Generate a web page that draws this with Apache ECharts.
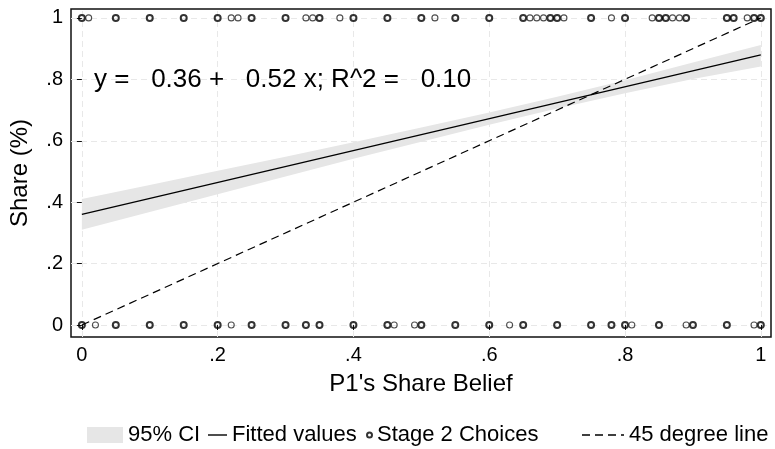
<!DOCTYPE html>
<html lang="en">

<head>
  <meta charset="UTF-8" />
  <title>Share vs P1's Share Belief</title>
  <script src="https://cdn.jsdelivr.net/npm/echarts@6.0.0/dist/echarts.min.js"></script>
  <style>
    body {
      margin: 0;
      background: #fff;
    }

    #chart {
      width: 775px;
      height: 449px;
    }
  </style>
</head>

<body>
  <div id="chart"></div>

  <script>
    // tick labels
    const tickValues = [0, 0.2, 0.4, 0.6, 0.8, 1];

    // 95% CI band of the fit
    const ciX = [0, 0.1, 0.2, 0.3, 0.4, 0.5, 0.6, 0.7, 0.8, 0.9, 1];
    const ciLower = [0.31, 0.368, 0.426, 0.484, 0.541, 0.597, 0.652, 0.705, 0.755, 0.801, 0.842];
    const ciUpper = [0.41, 0.456, 0.502, 0.548, 0.595, 0.643, 0.692, 0.743, 0.797, 0.855, 0.912];

    // fitted values: y = 0.36 + 0.52 x
    const fitX = [0, 1];
    const fitY = [0.36, 0.88];

    // 45 degree line
    const diagX = [0, 1];
    const diagY = [0, 1];

    // stage 2 choices (share = 1 / share = 0), several answers at the same x
    const choicesTopX = [0, 0.05, 0.1, 0.15, 0.2, 0.25, 0.3, 0.35, 0.4, 0.45, 0.5, 0.55, 0.6, 0.65,
      0.69, 0.7, 0.75, 0.8, 0.85, 0.86, 0.89, 0.95, 0.96, 0.99, 1];
    const choicesTopSingleX = [0.01, 0.22, 0.23, 0.33, 0.34, 0.38, 0.52, 0.66, 0.67, 0.68, 0.71, 0.78,
      0.84, 0.87, 0.88, 0.98];
    const choicesBottomX = [0, 0.05, 0.1, 0.15, 0.2, 0.25, 0.3, 0.33, 0.35, 0.4, 0.45, 0.5, 0.55, 0.6,
      0.65, 0.7, 0.75, 0.78, 0.8, 0.85, 0.9, 0.95, 1];
    const choicesBottomSingleX = [0.02, 0.22, 0.46, 0.49, 0.63, 0.81, 0.89, 0.99];

    const fontFamily = "'Liberation Sans', Arial, Helvetica, sans-serif";
    const textColor = "#000";
    const bandColor = "#e6e6e6";

    const chart = echarts.init(document.getElementById("chart"));

    const zip = (xs, ys) => xs.map((x, i) => [x, ys[i]]);
    const tickFmt = (v) => (v === 0 ? "0" : v === 1 ? "1" : String(+v.toFixed(1)).replace("0.", "."));

    const heavyPoints = choicesTopX.map((x) => [x, 1]).concat(choicesBottomX.map((x) => [x, 0]));
    const lightPoints = choicesTopSingleX.map((x) => [x, 1]).concat(choicesBottomSingleX.map((x) => [x, 0]));

    const gridLineData = tickValues
      .map((v) => ({ xAxis: v }))
      .concat(tickValues.map((v) => ({ yAxis: v })));

    const legendBase = {
      top: 419,
      orient: "horizontal",
      itemGap: 0,
      selectedMode: false,
      symbolKeepAspect: false,
      textStyle: { fontSize: 22, color: textColor, fontFamily: fontFamily },
    };

    const axisText = { fontSize: 20, color: textColor, fontFamily: fontFamily };

    const option = {
      backgroundColor: "#fff",
      animation: false,
      grid: {
        left: 68,
        right: 4,
        top: 9,
        bottom: 112,
        show: true,
        borderColor: "#111",
        borderWidth: 1.5,
        backgroundColor: "transparent",
      },
      xAxis: {
        type: "value",
        min: -0.016,
        max: 1.015,
        name: "P1's Share Belief",
        nameLocation: "middle",
        nameGap: 35,
        nameTextStyle: { fontSize: 24, color: textColor, fontFamily: fontFamily },
        axisLine: { show: false },
        splitLine: { show: false },
        axisTick: {
          show: true,
          customValues: tickValues,
          length: 5,
          lineStyle: { color: "#111", width: 1 },
        },
        axisLabel: Object.assign({ customValues: tickValues, formatter: tickFmt, margin: 8 }, axisText),
      },
      yAxis: {
        type: "value",
        min: -0.039,
        max: 1.029,
        name: "Share (%)",
        nameLocation: "middle",
        nameGap: 39,
        nameTextStyle: { fontSize: 24, color: textColor, fontFamily: fontFamily },
        axisLine: { show: false },
        splitLine: { show: false },
        axisTick: {
          show: true,
          customValues: tickValues,
          length: 5,
          lineStyle: { color: "#111", width: 1 },
        },
        axisLabel: Object.assign({ customValues: tickValues, formatter: tickFmt, margin: 8 }, axisText),
      },
      legend: [
        Object.assign({}, legendBase, {
          left: 82,
          itemWidth: 36,
          itemHeight: 16,
          data: [{ name: "95% CI", icon: "rect", itemStyle: { color: bandColor } }],
        }),
        Object.assign({}, legendBase, {
          left: 203,
          itemWidth: 19,
          itemHeight: 1.4,
          data: [{ name: "Fitted values", icon: "rect", itemStyle: { color: "#000" } }],
        }),
        Object.assign({}, legendBase, {
          left: 361,
          itemWidth: 5,
          itemHeight: 5,
          data: [{ name: "Stage 2 Choices", icon: "circle" }],
        }),
        Object.assign({}, legendBase, {
          left: 577,
          itemWidth: 42,
          itemHeight: 1.4,
          data: [{
            name: "45 degree line",
            icon: "path://M0,0h8v1.4h-8z M13,0h8v1.4h-8z M26,0h8v1.4h-8z M39,0h3v1.4h-3z",
            itemStyle: { color: "#000" },
          }],
        }),
      ],
      series: [
        {
          // light dashed grid, kept under everything else
          name: "grid",
          type: "line",
          data: [],
          z: 0,
          silent: true,
          markLine: {
            silent: true,
            z: 0,
            symbol: "none",
            label: { show: false },
            lineStyle: { color: "#e8e8e8", type: [6, 4], width: 1 },
            data: gridLineData,
          },
        },
        {
          name: "95% CI",
          type: "custom",
          silent: true,
          z: 1,
          data: ciX.map((x, i) => [x, ciLower[i], ciUpper[i]]),
          encode: { x: 0, y: [1, 2] },
          itemStyle: { color: bandColor },
          renderItem: (params, api) => {
            if (params.dataIndex !== 0) return;
            const pts = [];
            for (let i = 0; i < ciX.length; i++) pts.push(api.coord([ciX[i], ciUpper[i]]));
            for (let i = ciX.length - 1; i >= 0; i--) pts.push(api.coord([ciX[i], ciLower[i]]));
            return {
              type: "polygon",
              shape: { points: pts },
              style: { fill: bandColor },
            };
          },
        },
        {
          name: "Fitted values",
          type: "line",
          data: zip(fitX, fitY),
          symbol: "none",
          z: 3,
          itemStyle: { color: "#000" },
          lineStyle: { color: "#000", width: 1.3 },
          markPoint: {
            symbol: "circle",
            symbolSize: 0,
            silent: true,
            data: [
              {
                coord: [0.018, 0.8],
                label: {
                  show: true,
                  position: [0, 0],
                  align: "left",
                  verticalAlign: "middle",
                  formatter: "y =   0.36 +   0.52 x; R^2 =   0.10",
                  fontSize: 26,
                  color: textColor,
                  fontFamily: fontFamily,
                },
              },
            ],
          },
        },
        {
          name: "Stage 2 Choices",
          type: "scatter",
          data: heavyPoints,
          symbol: "circle",
          symbolSize: 6,
          z: 4,
          itemStyle: { color: "transparent", borderColor: "#000", borderWidth: 2 },
        },
        {
          name: "Stage 2 Choices",
          type: "scatter",
          data: lightPoints,
          symbol: "circle",
          symbolSize: 6,
          z: 4,
          itemStyle: { color: "transparent", borderColor: "#222", borderWidth: 1.1 },
        },
        {
          name: "45 degree line",
          type: "line",
          data: zip(diagX, diagY),
          symbol: "none",
          z: 3,
          itemStyle: { color: "#000" },
          lineStyle: { color: "#000", width: 1.2, type: [8, 5] },
        },
      ],
    };

    chart.setOption(option);
  </script>
</body>

</html>
